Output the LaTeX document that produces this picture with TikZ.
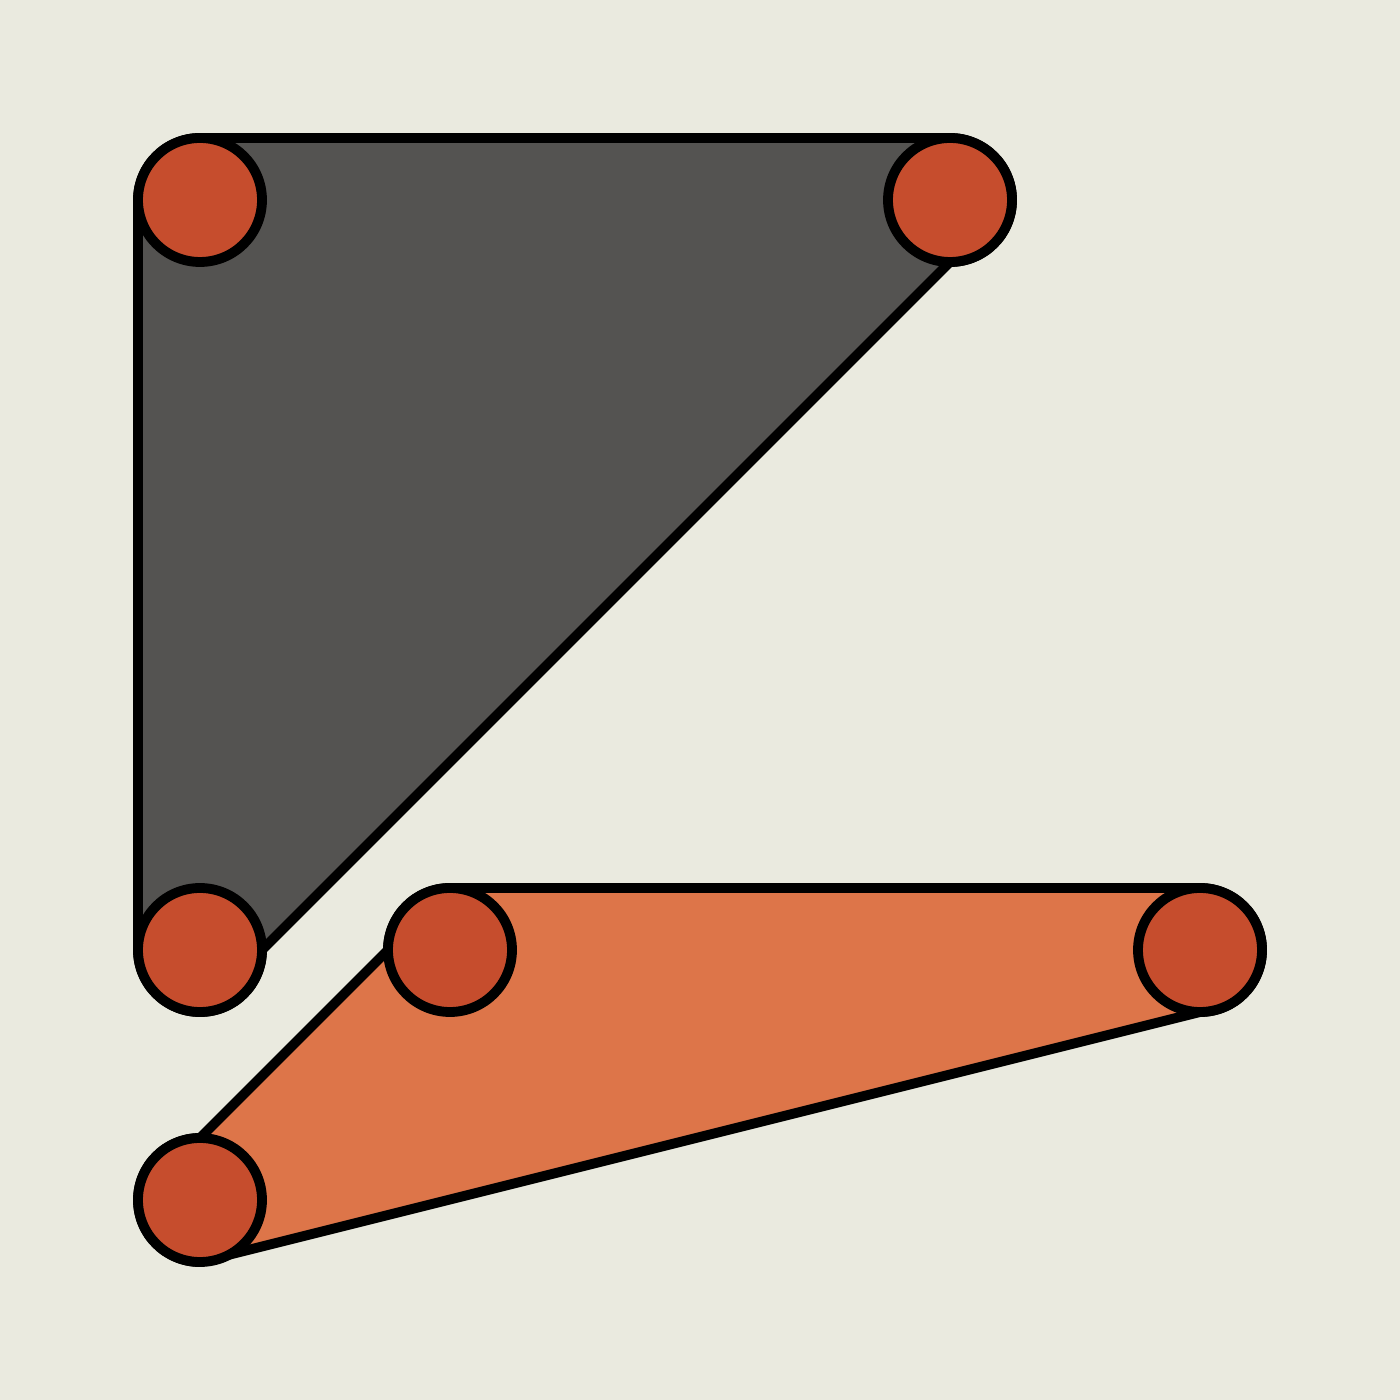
\documentclass[tikz,border=0pt]{standalone}
\usetikzlibrary{backgrounds}
\definecolor{paper}{RGB}{234,234,223}
\definecolor{slate}{RGB}{84,83,81}
\definecolor{clay}{RGB}{221,117,73}
\definecolor{brick}{RGB}{198,77,45}
\begin{document}
\begin{tikzpicture}[every path/.style={line width=2.8pt}]
	\tikzset{dot/.style={circle,draw,fill=brick,minimum size=1.24cm,inner sep=0pt,outer sep=0pt}}
	\def\r{0.62}
	
	% draw the points
	\foreach \n/\x/\y in {g1/2/12, g2/9.5/12, g3/2/4.5, o1/4.5/4.5, o2/12/4.5, o3/2/2}
	{
		\node(\n) at (\x,\y) [dot] {};
	}
	
	\begin{scope}[on background layer]
		% draw background
		\fill[paper] (0,0) rectangle (14,14);
		
		% draw grey hull
		\filldraw[fill=slate] (g1.west) arc[start angle=180,end angle=90,radius=\r] -- (g2.north)
			arc[start angle=90,end angle=-90,radius=\r] -- (g3.east)
			arc[start angle=0,end angle=-180,radius=\r] -- cycle;
		
		% draw orange hull
		\filldraw[fill=clay] (o1.west) arc[start angle=180,end angle=90,radius=\r] -- (o2.north)
			arc[start angle=90,end angle=-90,radius=\r] -- (o3.south)
			arc[start angle=270,end angle=90,radius=\r] -- cycle;
	\end{scope}
\end{tikzpicture}
\end{document}
